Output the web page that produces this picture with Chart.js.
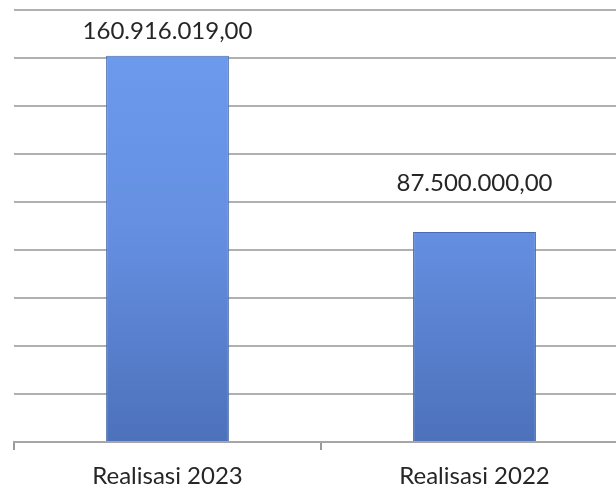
<!DOCTYPE html>
<html>
<head>
<meta charset="utf-8">
<script src="https://cdn.jsdelivr.net/npm/chart.js@4/dist/chart.umd.min.js"></script>
<style>
html,body{margin:0;padding:0;background:#fff;overflow:hidden;width:616px;height:488px;}
#wrap{position:absolute;left:0;top:0;width:642px;height:488px;}
</style>
</head>
<body>
<div id="wrap"><canvas id="c" width="642" height="488"></canvas></div>
<script>
const categories = ["Realisasi 2023", "Realisasi 2022"];
const values = [160916019, 87500000];
const valueLabels = ["160.916.019,00", "87.500.000,00"];
const yMin = 0, yMax = 180000000, yStep = 20000000;

const FONT = "Lato, 'Open Sans', sans-serif";

function barGradient(ctx) {
  const chart = ctx.chart;
  const area = chart.chartArea;
  if (!area) return '#5b86d6';
  const g = chart.ctx.createLinearGradient(0, area.top, 0, area.bottom);
  g.addColorStop(0, '#6e9cf0');
  g.addColorStop(0.5, '#6590e2');
  g.addColorStop(1, '#4d71bb');
  return g;
}

const labelPlugin = {
  id: 'valueLabels',
  afterDatasetsDraw(chart) {
    const c = chart.ctx;
    const meta = chart.getDatasetMeta(0);
    c.save();
    c.font = "24px " + FONT;
    c.fillStyle = '#262626';
    c.textAlign = 'center';
    c.textBaseline = 'middle';
    meta.data.forEach((bar, i) => {
      const y = Math.max(bar.y - 49, chart.chartArea.top + 21);
      c.fillText(valueLabels[i], bar.x, y);
    });
    c.restore();
  }
};

new Chart(document.getElementById('c'), {
  type: 'bar',
  data: {
    labels: categories,
    datasets: [{
      data: values,
      backgroundColor: barGradient,
      borderColor: '#4a6cae',
      borderWidth: 1,
      barPercentage: 0.4,
      categoryPercentage: 1.0
    }]
  },
  options: {
    responsive: false,
    animation: false,
    layout: { padding: { left: 14, right: 14, top: 10, bottom: 0 } },
    plugins: { legend: { display: false }, tooltip: { enabled: false } },
    scales: {
      x: {
        grid: { offset: true, drawOnChartArea: false, drawTicks: true, tickLength: 8, color: '#9a9a9a', lineWidth: 2 },
        border: { display: true, color: '#a6a6a6', width: 2 },
        ticks: { font: { family: FONT, size: 24 }, color: '#262626', padding: 12 },
        afterFit(scale) { scale.height = 46; }
      },
      y: {
        min: yMin, max: yMax,
        ticks: { display: false, stepSize: yStep },
        grid: { color: '#b0b0b0', lineWidth: 2, drawTicks: false },
        border: { display: false },
        afterFit(scale) { scale.width = 0; }
      }
    }
  },
  plugins: [labelPlugin]
});
</script>
</body>
</html>
